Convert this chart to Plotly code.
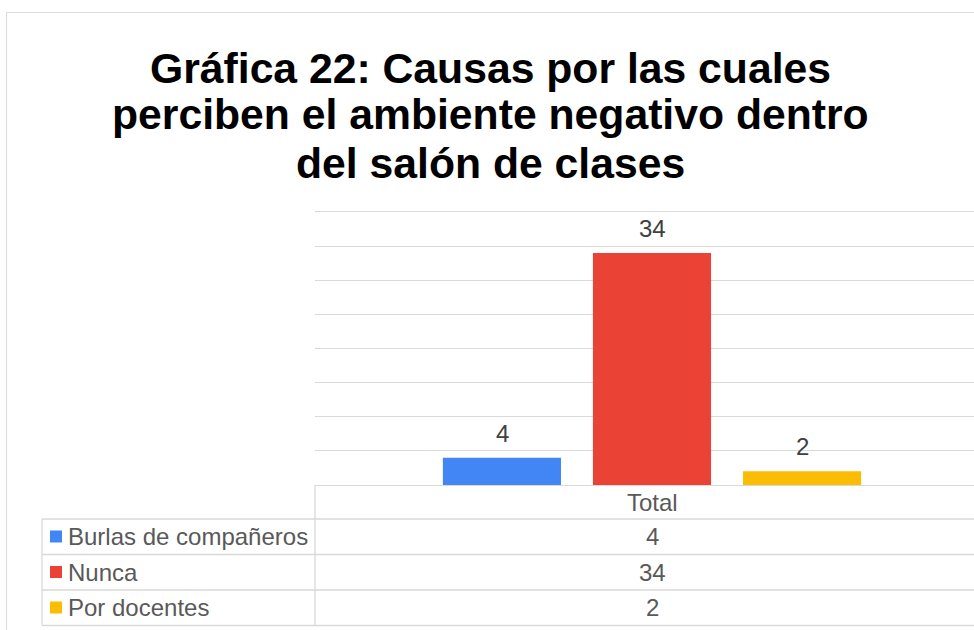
import plotly.graph_objects as go

# data
categories = ["Total"]
series_names = ["Burlas de compañeros", "Nunca", "Por docentes"]
series_values = [4, 34, 2]
series_colors = ["#4285F4", "#EA4335", "#FBBC04"]
title_lines = ["Gráfica 22: Causas por las cuales",
               "perciben el ambiente negativo dentro",
               "del salón de clases"]

W, H = 974, 630
L, R, T, B = 315, 0, 212, 145
plot_w = W - L - R
plot_h = H - T - B
cat_w = 674  # px per category (plot area runs past the right edge)

def px(x):
    return (x - L) / plot_w

def py(y):
    return (H - B - y) / plot_h

grid = "#d9d9d9"
txt = "#595959"
font = "Liberation Sans, Arial, sans-serif"

fig = go.Figure()
for name, val, col in zip(series_names, series_values, series_colors):
    fig.add_trace(go.Bar(x=categories, y=[val], name=name,
                         marker=dict(color=col, line=dict(width=0)),
                         showlegend=False, hoverinfo="skip"))

fig.update_layout(
    width=W, height=H,
    margin=dict(l=L, r=R, t=T, b=B, pad=0),
    paper_bgcolor="white", plot_bgcolor="white",
    barmode="group", bargap=0.332, bargroupgap=0.213,
    xaxis=dict(range=[-0.5, -0.5 + plot_w / cat_w], showticklabels=False,
               showgrid=False, zeroline=False, fixedrange=True,
               showline=True, mirror=True, linecolor=grid, linewidth=1.3),
    yaxis=dict(range=[0, 40], dtick=5, showticklabels=False,
               showgrid=True, gridcolor=grid, gridwidth=1.3,
               zeroline=False, fixedrange=True),
    font=dict(family=font, color=txt),
)

shapes = []
line = dict(color=grid, width=1.3)
# outer chart border
shapes.append(dict(type="rect", xref="paper", yref="paper",
                   x0=px(6.5), y0=py(12.5), x1=px(990), y1=py(650),
                   line=dict(color=grid, width=1)))
# data table
for yy in [519, 554.5, 590, 625.5]:
    shapes.append(dict(type="line", xref="paper", yref="paper",
                       x0=px(42), x1=px(990), y0=py(yy), y1=py(yy), line=line))
shapes.append(dict(type="line", xref="paper", yref="paper",
                   x0=px(42), x1=px(42), y0=py(519), y1=py(625.5), line=line))
shapes.append(dict(type="line", xref="paper", yref="paper",
                   x0=px(315), x1=px(315), y0=py(485), y1=py(625.5), line=line))

annotations = []
# title
for line_txt, yb in zip(title_lines, [82, 128.5, 177]):
    annotations.append(dict(text="<b>" + line_txt + "</b>", xref="paper", yref="paper",
                            x=px(490), y=py(yb - 14.5), xanchor="center", yanchor="middle",
                            showarrow=False, font=dict(size=42.7, color="black", family=font)))
# bar value labels
n = len(series_values)
for i, val in enumerate(series_values):
    annotations.append(dict(text=str(val), x=categories[0], y=val, xref="x", yref="y",
                            xshift=(i - (n - 1) / 2) * 150, yshift=9,
                            xanchor="center", yanchor="bottom", showarrow=False,
                            font=dict(size=24, color="#404040")))
# table header
annotations.append(dict(text=categories[0], xref="paper", yref="paper",
                        x=px(652), y=py(502), xanchor="center", yanchor="middle",
                        showarrow=False, font=dict(size=24, color=txt)))
row_mid = [536.5, 572, 607.5]
for name, val, col, ym in zip(series_names, series_values, series_colors, row_mid):
    shapes.append(dict(type="rect", xref="paper", yref="paper",
                       x0=px(50), x1=px(62), y0=py(ym - 6), y1=py(ym + 6),
                       fillcolor=col, line=dict(width=0)))
    annotations.append(dict(text=name, xref="paper", yref="paper",
                            x=px(66), y=py(ym), xanchor="left", yanchor="middle",
                            showarrow=False, font=dict(size=24, color=txt)))
    annotations.append(dict(text=str(val), xref="paper", yref="paper",
                            x=px(652), y=py(ym), xanchor="center", yanchor="middle",
                            showarrow=False, font=dict(size=24, color=txt)))

fig.update_layout(shapes=shapes, annotations=annotations)
# page has a default body margin; drop it so the figure fills the window
fig.write_html("out.html", config={"displayModeBar": False},
               post_script="document.body.style.margin='0';document.body.style.overflow='hidden';")
